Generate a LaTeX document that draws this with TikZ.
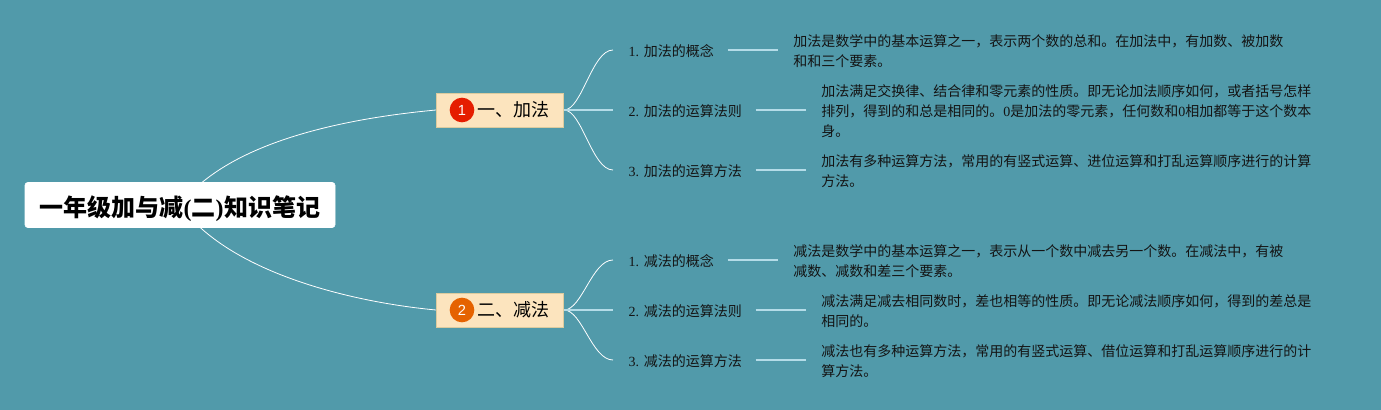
\documentclass[tikz,border=0pt]{standalone}
\usepackage{fontspec}
\setmainfont{Noto Sans CJK SC}
\newfontfamily\lat{Liberation Serif}
\newfontfamily\numf{Liberation Sans}
\usetikzlibrary{backgrounds}
\definecolor{bgc}{HTML}{519AAA}
\definecolor{boxc}{HTML}{FCE4BE}
\definecolor{boxl}{HTML}{DCCB9E}
\definecolor{palel}{HTML}{B4DCE8}
\tikzset{
  x=0.75pt,y=-0.75pt,
  rootbox/.style={fill=white,draw=white,rounded corners=2pt,minimum width=232.5pt,minimum height=33.75pt,inner sep=0pt,text height=17pt,text depth=.5pt,font=\fontsize{18}{22}\bfseries\selectfont},
  branchbox/.style={fill=boxc,draw=boxl,line width=.5pt,minimum width=95.5pt,minimum height=25.5pt,inner sep=0pt,font=\fontsize{13.5}{16}\selectfont,text=black},
  badge/.style={circle,minimum size=18.5pt,inner sep=0pt,text=white!90!boxc,font=\fontsize{11}{12}\numf\selectfont},
  leaf/.style={anchor=west,inner xsep=10.1pt,inner ysep=2pt,text height=10pt,text depth=0pt,font=\fontsize{10.5}{15}\selectfont,text=black!92},
  detail/.style={anchor=west,inner xsep=11.25pt,inner ysep=0pt,align=left,font=\fontsize{10.5}{15}\selectfont,text=black!92},
  curveline/.style={draw=white,line width=.6pt},
  midline/.style={draw=palel,line width=1pt},
}
\begin{document}
\begin{tikzpicture}
\useasboundingbox (0,0) rectangle (1381,410);
\node[rootbox] (root) at (180,205) {一年级加与减\hspace{.3pt}{\lat(}二{\lat)}\hspace{.8pt}知识笔记};
\node[branchbox] (b1) at (500,110) {\hspace*{19.5pt}一、加法};
\node[branchbox] (b2) at (500,310) {\hspace*{19.5pt}二、减法};
\node[badge,fill=red!75!orange!90!black] (i1) at (462,110) {1};
\node[badge,fill=orange!85!red!90!black] (i2) at (462,310) {2};
% leaves
\node[leaf] (l1) at (613,50) {\hspace*{1.5pt}{\lat 1. }加法的概念};
\node[leaf] (l2) at (613,110) {\hspace*{1.5pt}{\lat 2. }加法的运算法则};
\node[leaf] (l3) at (613,170) {\hspace*{1.5pt}{\lat 3. }加法的运算方法};
\node[leaf] (l4) at (613,260) {\hspace*{1.5pt}{\lat 1. }减法的概念};
\node[leaf] (l5) at (613,310) {\hspace*{1.5pt}{\lat 2. }减法的运算法则};
\node[leaf] (l6) at (613,360) {\hspace*{1.5pt}{\lat 3. }减法的运算方法};
% details
\node[detail] (d1) at (778,51.3) {加法是数学中的基本运算之一，表示两个数的总和。在加法中，有加数、被加数\\和和三个要素。};
\node[detail] (d2) at (806,111.3) {加法满足交换律、结合律和零元素的性质。即无论加法顺序如何，或者括号怎样\\排列，得到的和总是相同的。{\lat 0}是加法的零元素，任何数和{\lat 0}相加都等于这个数本\\身。};
\node[detail] (d3) at (806,171.3) {加法有多种运算方法，常用的有竖式运算、进位运算和打乱运算顺序进行的计算\\方法。};
\node[detail] (d4) at (778,261.3) {减法是数学中的基本运算之一，表示从一个数中减去另一个数。在减法中，有被\\减数、减数和差三个要素。};
\node[detail] (d5) at (806,311.3) {减法满足减去相同数时，差也相等的性质。即无论减法顺序如何，得到的差总是\\相同的。};
\node[detail] (d6) at (806,361.3) {减法也有多种运算方法，常用的有竖式运算、借位运算和打乱运算顺序进行的计\\算方法。};
\begin{scope}[on background layer]
\fill[bgc] (0,0) rectangle (1381,410);
\draw[curveline] (root.center) .. controls (230,140) and (350,118) .. (b1.west);
\draw[curveline] (root.center) .. controls (228,272) and (350,302) .. (b2.west);
\end{scope}
\foreach \b/\l in {b1/l1,b1/l3,b2/l4,b2/l6}{
  \draw[curveline] (\b.east) .. controls +(18,0) and ([xshift=-15.75pt]\l.west) .. (\l.west);
}
\draw[midline] (b1.east) -- (l2.west);
\draw[midline] (b2.east) -- (l5.west);
\foreach \i in {1,...,6}{ \draw[midline] (l\i.east) -- (d\i.west |- l\i.east); }
\end{tikzpicture}
\end{document}
